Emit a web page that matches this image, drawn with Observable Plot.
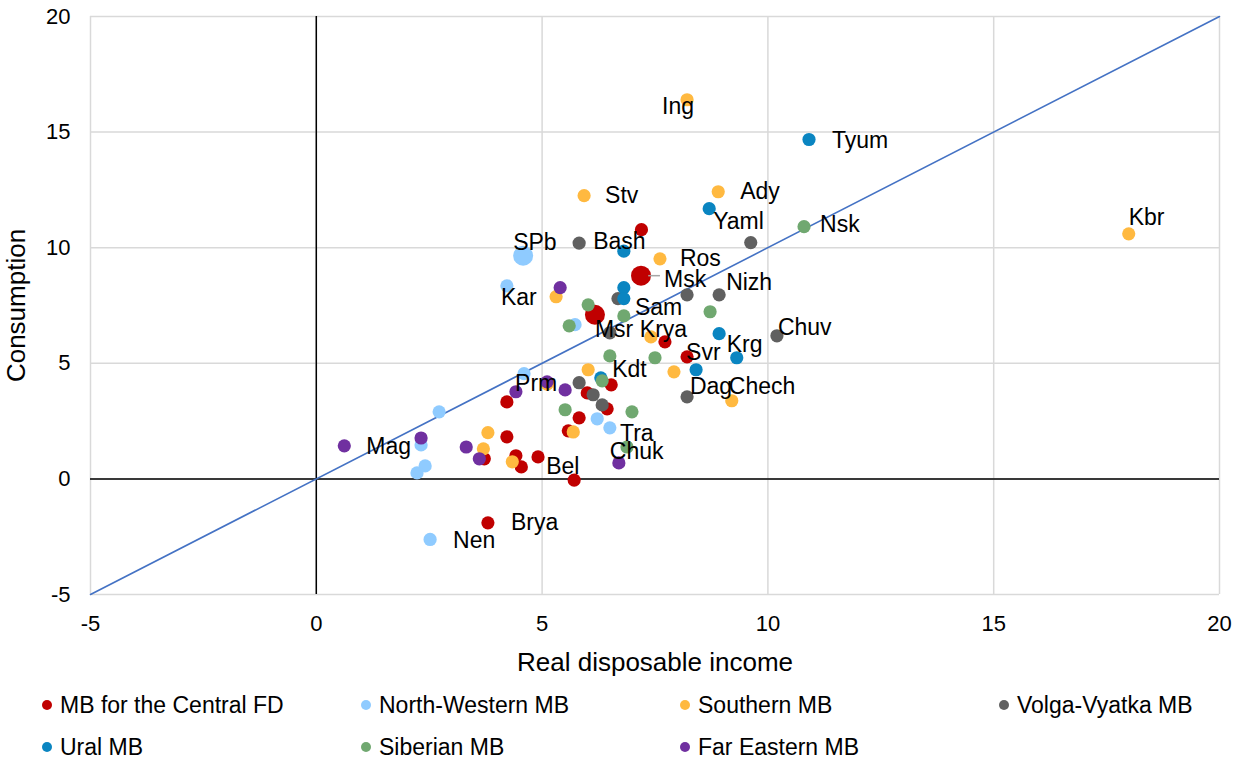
<!DOCTYPE html>
<html><head><meta charset="utf-8">
<script src="https://cdn.jsdelivr.net/npm/d3@7"></script>
<script src="https://cdn.jsdelivr.net/npm/@observablehq/plot@0.6"></script>
<style>
body{margin:0;background:#fff;font-family:"Liberation Sans",Arial,sans-serif;}
#chart{width:1243px;height:682px;}
.legend{display:grid;grid-template-columns:repeat(4,319px);grid-auto-rows:42px;padding-left:42px;margin-top:2px;}
.item{display:flex;align-items:center;font-size:23px;color:#000;white-space:nowrap;}
.sw{width:10px;height:10px;border-radius:50%;margin-right:8px;flex:none;}
</style></head><body><div id="chart"></div><div class="legend" id="legend"></div><script>
// ---- data ----
const groups = ["MB for the Central FD","North-Western MB","Southern MB","Volga-Vyatka MB","Ural MB","Siberian MB","Far Eastern MB"];
const colors = ["#C00000","#8FCBFF","#FFB940","#606060","#0A85C1","#70A870","#7030A0"];

const central = [
  {x:7.20,y:10.78},{x:7.19,y:8.79,name:"Msk"},{x:6.17,y:7.10,name:"Msr"},{x:7.72,y:5.93},
  {x:8.21,y:5.28},{x:6.53,y:4.07},{x:6.00,y:3.72},{x:6.44,y:3.03},{x:4.22,y:3.33},
  {x:5.82,y:2.64},{x:5.58,y:2.08},{x:4.22,y:1.82},{x:4.42,y:1.00},{x:3.72,y:0.87},
  {x:4.54,y:0.52},{x:4.91,y:0.95},{x:5.71,y:-0.05,name:"Bel"},{x:3.80,y:-1.90,name:"Brya"}
];
const northWestern = [
  {x:4.58,y:9.65,name:"SPb"},{x:4.22,y:8.35,name:"Kar"},{x:5.73,y:6.67},{x:4.60,y:4.55},
  {x:2.72,y:2.90},{x:6.22,y:2.60},{x:6.50,y:2.21},{x:2.32,y:1.47},{x:2.41,y:0.56},
  {x:2.23,y:0.26},{x:2.52,y:-2.62,name:"Nen"}
];
const southern = [
  {x:8.21,y:16.40,name:"Ing"},{x:5.93,y:12.25,name:"Stv"},{x:8.90,y:12.42,name:"Ady"},
  {x:17.99,y:10.60,name:"Kbr"},{x:7.61,y:9.52,name:"Ros"},{x:5.31,y:7.88},{x:7.41,y:6.14},
  {x:6.02,y:4.72},{x:7.92,y:4.63,name:"Dag"},{x:9.20,y:3.38,name:"Chech"},{x:5.69,y:2.03},
  {x:3.80,y:2.00},{x:3.70,y:1.30},{x:4.34,y:0.74},{x:5.11,y:4.10}
];
const volgaVyatka = [
  {x:5.82,y:10.20,name:"Bash"},{x:9.62,y:10.22},{x:8.21,y:7.96},{x:8.92,y:7.96,name:"Nizh"},
  {x:6.68,y:7.80,name:"Sam"},{x:6.50,y:6.32},{x:10.20,y:6.19,name:"Chuv"},{x:5.82,y:4.16},
  {x:6.13,y:3.64},{x:6.33,y:3.20},{x:8.21,y:3.55}
];
const ural = [
  {x:10.91,y:14.68,name:"Tyum"},{x:8.70,y:11.69,name:"Yaml"},{x:6.81,y:9.85},{x:6.81,y:8.27},
  {x:6.81,y:7.80},{x:8.92,y:6.28},{x:9.31,y:5.24,name:"Krg"},{x:8.41,y:4.72,name:"Svr"},{x:6.30,y:4.37}
];
const siberian = [
  {x:10.80,y:10.91,name:"Nsk"},{x:6.02,y:7.53},{x:6.81,y:7.05,name:"Krya"},{x:5.60,y:6.62},
  {x:8.72,y:7.23},{x:6.50,y:5.32},{x:7.50,y:5.24},{x:6.33,y:4.24,name:"Kdt"},{x:5.51,y:2.99},
  {x:6.99,y:2.90},{x:6.88,y:1.38,name:"Tra"}
];
const farEastern = [
  {x:0.62,y:1.43,name:"Mag"},{x:5.40,y:8.27},{x:5.11,y:4.20,name:"Prm"},{x:4.42,y:3.77},
  {x:5.51,y:3.85},{x:2.32,y:1.77},{x:3.32,y:1.38},{x:3.61,y:0.87},{x:6.70,y:0.69,name:"Chuk"}
];
const series = [central, northWestern, southern, volgaVyatka, ural, siberian, farEastern];
const ticks = [-5, 0, 5, 10, 15, 20];
const largeRegions = ["SPb", "Msk", "Msr"];

// ---- layout (label offsets in px: dx from point to text start, dy to text middle) ----
const labelOffset = {
  Ing:[-25,7], Tyum:[23,1], Stv:[21,0], Ady:[22,0], Yaml:[4,13], Nsk:[16,-2], Kbr:[0,-16],
  SPb:[-10,-13], Bash:[14,-1], Ros:[20,0], Msk:[23,4], Nizh:[7,-12], Kar:[-6,12], Sam:[17,9],
  Msr:[0,15], Krya:[16,14], Chuv:[1,-8], Krg:[-10,-13], Svr:[-10,-17], Kdt:[10,-11], Prm:[-32,2],
  Dag:[16,15], Chech:[-3,-14], Mag:[22,1], Tra:[-7,-13], Chuk:[-9,-11], Bel:[-28,-13], Brya:[23,0], Nen:[23,1]
};

const data = series.flatMap((s, i) => s.map(d => ({...d, group: groups[i]})));
const labeled = data.filter(d => d.name);
const msk = data.filter(d => d.name === "Msk");

const labelMarks = labeled.map(d => Plot.text([d], {
  x: "x", y: "y", text: "name", dx: labelOffset[d.name][0], dy: labelOffset[d.name][1],
  textAnchor: "start", fontSize: 23, fill: "#000"
}));

const chart = Plot.plot({
  width: 1243, height: 682,
  marginLeft: 90, marginRight: 24, marginTop: 16, marginBottom: 88,
  style: {fontFamily: "'Liberation Sans', Arial, sans-serif", background: "#fff", color: "#000"},
  x: {domain: [-5, 20]},
  y: {domain: [-5, 20]},
  r: {type: "identity"},
  color: {domain: groups, range: colors},
  marks: [
    Plot.gridX(ticks, {stroke: "#d9d9d9", strokeOpacity: 1, strokeWidth: 1.5}),
    Plot.gridY(ticks, {stroke: "#d9d9d9", strokeOpacity: 1, strokeWidth: 1.5}),
    Plot.ruleX([0], {stroke: "#000", strokeWidth: 1.5}),
    Plot.ruleY([0], {stroke: "#000", strokeWidth: 1.5}),
    Plot.line([{x:-5,y:-5},{x:20,y:20}], {x: "x", y: "y", stroke: "#4472C4", strokeWidth: 1.6}),
    Plot.axisX(ticks, {tickSize: 0, tickPadding: 21, fontSize: 22, tickFormat: d => String(d),
      label: "Real disposable income", labelAnchor: "center", labelArrow: "none", labelOffset: 76}),
    Plot.axisY(ticks, {tickSize: 0, tickPadding: 20, fontSize: 22, tickFormat: d => String(d),
      label: "Consumption", labelAnchor: "center", labelArrow: "none", labelOffset: 84}),
    Plot.dot(data, {x: "x", y: "y", fill: "group", r: d => largeRegions.includes(d.name) ? 10 : 6.6}),
    Plot.link(msk, {x1: d => d.x + 0.16, x2: d => d.x + 0.42, y1: "y", y2: "y", stroke: "#a6a6a6", strokeWidth: 1.5}),
    ...labelMarks
  ]
});
// axis label fonts
chart.querySelectorAll("g[aria-label='x-axis label'] text, g[aria-label='y-axis label'] text").forEach(t => t.setAttribute("font-size", "26"));
document.getElementById("chart").appendChild(chart);

const lg = document.getElementById("legend");
groups.forEach((g, i) => {
  const it = document.createElement("div"); it.className = "item";
  const sw = document.createElement("span"); sw.className = "sw"; sw.style.background = colors[i];
  it.appendChild(sw); it.appendChild(document.createTextNode(g)); lg.appendChild(it);
});
</script></body></html>
